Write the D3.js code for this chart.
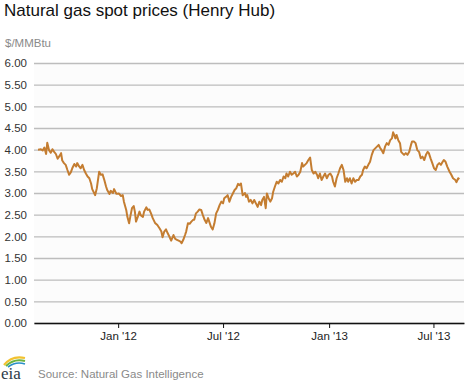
<!DOCTYPE html>
<html><head><meta charset="utf-8">
<script src="https://cdn.jsdelivr.net/npm/d3@7"></script>
<style>
html,body{margin:0;padding:0;background:#fff;}
svg{display:block;font-family:"Liberation Sans",Arial,sans-serif;}
</style></head>
<body><svg id="c" width="470" height="383"></svg>
<script>
const title = "Natural gas spot prices (Henry Hub)";
const unitLabel = "$/MMBtu";
const sourceText = "Source: Natural Gas Intelligence";
const yTicks = [0,0.5,1,1.5,2,2.5,3,3.5,4,4.5,5,5.5,6];
const xTickDates = ["2012-01-01","2012-07-01","2013-01-01","2013-07-01"];
const xTickLabels = ["Jan '12","Jul '12","Jan '13","Jul '13"];
const xDomain = ["2011-08-08","2013-08-23"];
const dates = [
"2011-08-15","2011-08-20","2011-08-23","2011-08-26","2011-08-29","2011-08-31","2011-09-03","2011-09-06","2011-09-09","2011-09-12",
"2011-09-15","2011-09-18","2011-09-21","2011-09-24","2011-09-26","2011-09-29","2011-10-02","2011-10-05","2011-10-08","2011-10-11",
"2011-10-14","2011-10-17","2011-10-20","2011-10-22","2011-10-25","2011-10-28","2011-10-31","2011-11-03","2011-11-06","2011-11-09",
"2011-11-12","2011-11-15","2011-11-17","2011-11-22","2011-11-25","2011-11-29","2011-12-02","2011-12-05","2011-12-08","2011-12-11",
"2011-12-13","2011-12-17","2011-12-19","2011-12-23","2011-12-25","2011-12-29","2012-01-02","2012-01-06","2012-01-09","2012-01-11",
"2012-01-15","2012-01-17","2012-01-20","2012-01-22","2012-01-25","2012-01-28","2012-01-30","2012-02-01","2012-02-04","2012-02-07",
"2012-02-09","2012-02-13","2012-02-15","2012-02-19","2012-02-21","2012-02-24","2012-02-27","2012-03-01","2012-03-05","2012-03-09",
"2012-03-13","2012-03-16","2012-03-18","2012-03-21","2012-03-24","2012-03-27","2012-03-30","2012-04-02","2012-04-06","2012-04-09",
"2012-04-12","2012-04-15","2012-04-18","2012-04-20","2012-04-23","2012-04-26","2012-04-28","2012-05-01","2012-05-04","2012-05-07",
"2012-05-10","2012-05-12","2012-05-15","2012-05-18","2012-05-21","2012-05-24","2012-05-27","2012-05-30","2012-06-02","2012-06-05",
"2012-06-07","2012-06-10","2012-06-13","2012-06-16","2012-06-19","2012-06-22","2012-06-25","2012-06-28","2012-07-01","2012-07-03",
"2012-07-06","2012-07-09","2012-07-12","2012-07-15","2012-07-18","2012-07-21","2012-07-24","2012-07-27","2012-07-29","2012-08-01",
"2012-08-04","2012-08-08","2012-08-10","2012-08-12","2012-08-15","2012-08-18","2012-08-21","2012-08-24","2012-08-27","2012-08-30",
"2012-09-02","2012-09-05","2012-09-07","2012-09-10","2012-09-13","2012-09-15","2012-09-18","2012-09-21","2012-09-24","2012-09-26",
"2012-09-29","2012-10-02","2012-10-05","2012-10-08","2012-10-11","2012-10-14","2012-10-17","2012-10-19","2012-10-22","2012-10-25",
"2012-10-28","2012-10-31","2012-11-03","2012-11-06","2012-11-09","2012-11-12","2012-11-15","2012-11-17","2012-11-20","2012-11-23",
"2012-11-26","2012-11-29","2012-12-02","2012-12-05","2012-12-08","2012-12-11","2012-12-13","2012-12-16","2012-12-19","2012-12-22",
"2012-12-25","2012-12-28","2012-12-31","2013-01-03","2013-01-06","2013-01-08","2013-01-11","2013-01-14","2013-01-17","2013-01-20",
"2013-01-23","2013-01-26","2013-01-29","2013-02-01","2013-02-03","2013-02-06","2013-02-09","2013-02-12","2013-02-15","2013-02-18",
"2013-02-21","2013-02-24","2013-02-27","2013-03-01","2013-03-04","2013-03-07","2013-03-10","2013-03-13","2013-03-16","2013-03-19",
"2013-03-22","2013-03-25","2013-03-28","2013-03-30","2013-04-02","2013-04-05","2013-04-08","2013-04-11","2013-04-14","2013-04-17",
"2013-04-20","2013-04-22","2013-04-24","2013-04-26","2013-04-28","2013-05-01","2013-05-04","2013-05-06","2013-05-08","2013-05-11",
"2013-05-14","2013-05-17","2013-05-20","2013-05-23","2013-05-25","2013-05-28","2013-05-31","2013-06-03","2013-06-06","2013-06-09",
"2013-06-12","2013-06-15","2013-06-18","2013-06-21","2013-06-23","2013-06-26","2013-06-29","2013-07-02","2013-07-05","2013-07-08",
"2013-07-11","2013-07-14","2013-07-17","2013-07-19","2013-07-22","2013-07-25","2013-07-29","2013-08-01","2013-08-04","2013-08-08",
"2013-08-10","2013-08-13","2013-08-15"
];
const prices = [
4.00,4.01,3.98,4.05,3.90,4.16,3.99,3.93,4.01,3.95,
3.90,3.79,3.85,3.92,3.75,3.69,3.65,3.53,3.42,3.48,
3.59,3.67,3.61,3.69,3.62,3.57,3.65,3.53,3.45,3.38,
3.34,3.22,3.09,2.95,3.11,3.49,3.42,3.43,3.30,3.15,
3.07,2.98,3.05,3.00,3.09,2.98,2.99,2.93,2.95,2.80,
2.61,2.45,2.30,2.45,2.65,2.70,2.57,2.34,2.45,2.57,
2.49,2.45,2.57,2.67,2.61,2.62,2.53,2.42,2.31,2.26,
2.18,2.11,1.98,2.11,2.16,2.07,1.99,1.90,2.03,1.94,
1.92,1.90,1.88,1.84,1.92,2.03,2.11,2.30,2.29,2.34,
2.38,2.38,2.53,2.57,2.62,2.61,2.49,2.38,2.31,2.42,
2.34,2.22,2.16,2.30,2.53,2.61,2.72,2.80,2.76,2.88,
2.91,2.95,2.80,2.91,2.99,3.07,3.11,3.21,3.18,3.22,
2.95,3.00,2.91,2.95,2.80,2.84,2.76,2.84,2.76,2.68,
2.80,2.72,2.84,2.91,2.65,2.99,2.88,2.80,2.88,3.03,
3.15,3.26,3.22,3.30,3.26,3.38,3.34,3.45,3.38,3.49,
3.42,3.45,3.49,3.38,3.42,3.49,3.69,3.61,3.65,3.69,
3.76,3.82,3.53,3.45,3.49,3.42,3.34,3.45,3.30,3.38,
3.45,3.34,3.42,3.45,3.38,3.26,3.15,3.34,3.45,3.57,
3.65,3.53,3.26,3.34,3.26,3.34,3.22,3.34,3.26,3.30,
3.30,3.38,3.42,3.53,3.61,3.57,3.65,3.72,3.88,3.99,
4.03,4.07,4.11,4.05,3.99,3.92,4.07,4.15,4.11,4.22,
4.26,4.40,4.34,4.26,4.34,4.22,4.15,3.95,3.92,3.88,
3.92,3.88,3.95,4.11,4.19,4.19,4.15,3.99,3.95,3.80,
3.84,3.76,3.88,3.95,3.92,3.80,3.69,3.57,3.53,3.65,
3.69,3.65,3.72,3.76,3.72,3.61,3.49,3.42,3.34,3.30,
3.25,3.34,3.32
];

const parse = d3.timeParse("%Y-%m-%d");
const data = dates.map((d,i)=>({date:parse(d), value:prices[i]}));

const svg = d3.select("#c");
const mLeft = 34, mRight = 464, mTop = 63, mBottom = 323;

const x = d3.scaleTime().domain(xDomain.map(parse)).range([mLeft, mRight]);
const y = d3.scaleLinear().domain([0, 6]).range([mBottom, mTop]);

svg.append("rect").attr("x", mLeft).attr("y", mTop).attr("width", mRight-mLeft).attr("height", mBottom-mTop).attr("fill", "#fcfcfc");

svg.append("text").attr("x", 4).attr("y", 16).attr("font-size", 17).attr("fill", "#111").text(title);
svg.append("text").attr("x", 5).attr("y", 47).attr("font-size", 11.5).attr("fill", "#8a8a8a").text(unitLabel);

const yAxis = d3.axisLeft(y).tickValues(yTicks).tickSize(-(mRight-mLeft)).tickFormat(d3.format(".2f")).tickPadding(7);
const gy = svg.append("g").attr("transform", `translate(${mLeft},0)`).call(yAxis);
gy.select(".domain").remove();
gy.selectAll(".tick line").attr("stroke", "#bdbdbd").attr("stroke-width", 1.3);
gy.selectAll(".tick text").attr("font-size", 11.5).attr("fill", "#333").attr("font-family", "Liberation Sans, Arial, sans-serif").attr("x", -7).attr("text-anchor","end");

const line = d3.line().x(d=>x(d.date)).y(d=>y(d.value));
svg.append("path").datum(data).attr("d", line).attr("fill", "none").attr("stroke", "#c47d31").attr("stroke-width", 2).attr("stroke-linejoin","round");

const xAxis = d3.axisBottom(x).tickValues(xTickDates.map(parse)).tickFormat((d,i)=>xTickLabels[i]).tickSize(5).tickPadding(4).tickSizeOuter(0);
const gx = svg.append("g").attr("transform", `translate(0,${mBottom})`).call(xAxis);
gx.select(".domain").attr("stroke", "#111").attr("stroke-width", 1.3);
gx.selectAll(".tick line").attr("stroke", "#111");
gx.selectAll(".tick text").attr("font-size", 11.5).attr("fill", "#222").attr("font-family", "Liberation Sans, Arial, sans-serif");

const logo = svg.append("g");
logo.append("path").attr("d", "M4,365 Q12,355 25,358").attr("fill","none").attr("stroke","#f2c230").attr("stroke-width",2.2);
logo.append("path").attr("d", "M6,366 Q14,358 25,361").attr("fill","none").attr("stroke","#6cb33f").attr("stroke-width",2);
logo.append("path").attr("d", "M8,367 Q16,361 25,364").attr("fill","none").attr("stroke","#2a8fc9").attr("stroke-width",1.6);
logo.append("text").attr("x", 1).attr("y", 379).attr("font-family","Liberation Serif, 'DejaVu Serif', serif").attr("font-size", 17).attr("fill","#2d3a4a").text("eia");
svg.append("text").attr("x", 38).attr("y", 378).attr("font-size", 11.5).attr("fill", "#8a8a8a").text(sourceText);
</script></body></html>
